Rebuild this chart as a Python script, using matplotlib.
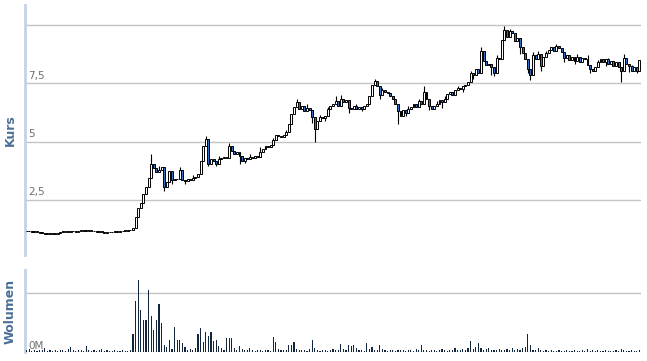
import numpy as np
import matplotlib.pyplot as plt

close = [
    1.15, 1.18, 1.14, 1.12, 1.13, 1.10, 1.08, 1.05, 1.07, 1.06, 1.04, 1.05,
    1.08, 1.12, 1.13, 1.15, 1.14, 1.17, 1.16, 1.13, 1.18, 1.20, 1.19, 1.17,
    1.21, 1.19, 1.16, 1.14, 1.12, 1.13, 1.10, 1.12, 1.11, 1.14, 1.15, 1.13,
    1.16, 1.18, 1.17, 1.20, 1.22, 1.30,
    1.75, 2.15, 2.35, 2.75, 3.05, 3.45, 4.05, 3.85, 3.70, 3.80, 3.90, 3.05,
    3.25, 3.75, 3.35, 3.40, 3.38, 3.80, 3.35, 3.30, 3.38, 3.36, 3.45, 3.50,
    3.60, 4.15,
    4.80, 5.10, 4.05, 4.25, 4.15, 4.05, 4.25, 4.30, 4.35, 4.30, 4.80, 4.60,
    4.45, 4.55, 4.40, 4.15, 4.30, 4.25, 4.35, 4.28, 4.40, 4.35, 4.55, 4.70,
    4.80, 4.75, 4.85, 5.05, 5.30, 5.25, 5.20, 5.30, 5.40, 5.75, 6.20, 6.50,
    6.70, 6.40,
    6.55, 6.30, 6.45, 6.35, 6.05, 5.55, 5.90, 6.05, 6.00, 6.10, 6.40, 6.55,
    6.60, 6.75, 6.55, 6.85, 6.70, 6.80, 6.45, 6.40, 6.55, 6.40, 6.50, 6.42,
    6.55, 6.60, 6.95, 7.45, 7.60, 7.40, 7.00, 7.20, 7.15, 7.10, 6.95, 6.85,
    6.60, 6.30, 6.10,
    6.35, 6.25, 6.40, 6.50, 6.60, 6.50, 6.75, 6.60, 7.15, 6.85, 6.55, 6.40,
    6.55, 6.60, 6.80, 6.70, 6.85, 7.05, 7.15, 7.00, 7.20, 7.30, 7.25, 7.40,
    7.45, 7.55, 7.95, 7.85, 8.10, 7.95, 8.90, 8.45, 8.30, 8.35, 8.20, 7.95,
    8.60, 8.55,
    9.35, 9.80, 9.50, 9.75, 9.65, 9.30, 9.45, 9.05, 8.80, 8.55, 8.10, 7.85,
    8.70, 8.55, 8.75, 8.25, 8.65, 8.80, 8.95, 9.05, 8.90, 9.10, 9.00, 8.85,
    8.60, 8.70, 8.50, 8.65, 8.45, 8.65, 8.40, 8.60, 8.55, 8.30, 8.10, 8.05,
    8.20, 8.40, 8.55, 8.40, 8.55, 8.35, 8.45, 8.25, 8.40, 8.20, 8.05, 8.60,
    8.35, 8.25, 8.05, 8.20, 8.05, 8.50,
]

# markante Dochte (Index, Wert)
hoch_idx = [48, 51, 59, 64, 69, 74, 78, 86, 90, 95, 100, 104, 108, 113, 116,
            119, 121, 127, 134, 137, 147, 151, 153, 158, 161, 166, 171, 175,
            181, 184, 186, 195, 197, 200, 204, 212, 216, 220, 224, 230, 233]
hoch_wert = [4.45, 3.95, 3.90, 3.55, 5.25, 4.40, 4.95, 4.45, 4.75, 5.15, 5.50,
             6.85, 6.60, 6.15, 6.50, 6.95, 7.00, 6.60, 7.70, 7.30, 6.55, 6.85,
             7.40, 6.75, 6.95, 7.40, 8.05, 9.05, 8.70, 9.95, 9.85, 8.85, 8.90,
             8.90, 9.20, 8.75, 8.70, 8.50, 8.60, 8.75, 8.30]
tief_idx = [53, 56, 61, 70, 73, 82, 84, 110, 111, 115, 124, 129, 136, 143,
            146, 155, 160, 168, 172, 179, 180, 190, 193, 194, 198, 207, 211,
            217, 223, 229, 232, 235]
tief_wert = [2.90, 3.20, 3.20, 3.95, 3.95, 4.05, 4.10, 5.80, 5.00, 5.90, 6.25,
             6.30, 6.85, 5.75, 6.10, 6.35, 6.45, 7.15, 7.70, 7.85, 7.80, 8.75,
             7.95, 7.65, 8.05, 8.40, 8.35, 7.95, 8.25, 7.55, 8.00, 7.95]

# Volumen (Gitterlinie = 1)
volumen = [
    0.03, 0.05, 0.02, 0.03, 0.02, 0.04, 0.03, 0.06, 0.02, 0.03, 0.02, 0.03,
    0.02, 0.03, 0.04, 0.02, 0.05, 0.08, 0.03, 0.02, 0.04, 0.03, 0.02, 0.10,
    0.03, 0.02, 0.04, 0.02, 0.03, 0.05, 0.02, 0.03, 0.02, 0.02, 0.03, 0.02,
    0.02, 0.03, 0.02, 0.02, 0.03, 0.30,
    0.85, 1.22, 0.71, 0.54, 0.54, 1.05, 0.61, 0.37, 0.54, 0.80, 0.49, 0.12,
    0.09, 0.20, 0.05, 0.42, 0.20, 0.20, 0.15, 0.09, 0.04, 0.05, 0.03, 0.06,
    0.30, 0.41,
    0.16, 0.34, 0.27, 0.34, 0.19, 0.20, 0.10, 0.06, 0.04, 0.23, 0.24, 0.23,
    0.06, 0.04, 0.10, 0.05, 0.03, 0.04, 0.06, 0.03, 0.02, 0.04, 0.03, 0.02,
    0.03, 0.04, 0.02, 0.26, 0.16, 0.05, 0.03, 0.04, 0.03, 0.12, 0.12, 0.16,
    0.05, 0.03,
    0.04, 0.03, 0.02, 0.05, 0.20, 0.06, 0.03, 0.02, 0.04, 0.03, 0.02, 0.03,
    0.05, 0.04, 0.03, 0.14, 0.05, 0.04, 0.12, 0.10, 0.12, 0.06, 0.03, 0.04,
    0.02, 0.15, 0.05, 0.08, 0.04, 0.03, 0.12, 0.05, 0.03, 0.02, 0.04, 0.03,
    0.02, 0.03, 0.04,
    0.03, 0.02, 0.04, 0.03, 0.02, 0.05, 0.03, 0.12, 0.04, 0.03, 0.02, 0.03,
    0.04, 0.02, 0.03, 0.05, 0.03, 0.02, 0.04, 0.03, 0.06, 0.04, 0.03, 0.05,
    0.04, 0.06, 0.19, 0.05, 0.08, 0.15, 0.06, 0.04, 0.05, 0.07, 0.03, 0.04,
    0.03, 0.05,
    0.04, 0.03, 0.05, 0.04, 0.06, 0.03, 0.05, 0.04, 0.06, 0.08, 0.31, 0.12,
    0.04, 0.03, 0.06, 0.04, 0.02, 0.03, 0.02, 0.03, 0.02, 0.02, 0.03, 0.02,
    0.02, 0.03, 0.02, 0.02, 0.03, 0.02, 0.02, 0.03, 0.02, 0.05, 0.02, 0.03,
    0.02, 0.03, 0.02, 0.02, 0.03, 0.02, 0.02, 0.02, 0.03, 0.02, 0.05, 0.03,
    0.02, 0.02, 0.03, 0.02, 0.02, 0.03,
]

kurs_ticks = [2.5, 5, 7.5, 10]
kurs_labels = ["2,5", "5", "7,5", ""]

close = np.array(close)
n = len(close)
x = np.arange(n)
open_ = np.r_[close[0], close[:-1]]
high = np.maximum(open_, close)
low = np.minimum(open_, close)
high[hoch_idx] = np.maximum(high[hoch_idx], hoch_wert)
low[tief_idx] = np.minimum(low[tief_idx], tief_wert)

blau = "#2f6fc6"
gitter = "#c4c4c4"
achse = "#c3d3e6"
titel = "#4b6f98"

fig = plt.figure(figsize=(6.47, 3.61), dpi=100)
ax = fig.add_axes([25/647, 1 - 255/361, 616/647, 250/361])
axv = fig.add_axes([25/647, 1 - 352/361, 616/647, 82/361])

for a in (ax, axv):
    for s in ("top", "right", "bottom"):
        a.spines[s].set_visible(False)
    a.spines["left"].set_color(achse)
    a.spines["left"].set_linewidth(2)
    a.set_xlim(-0.6, n - 0.4)
    a.set_xticks([])
    a.tick_params(left=False)
    a.grid(axis="y", color=gitter, lw=1)
    a.set_axisbelow(True)

# Kerzen
steigt = close >= open_
farben = np.where(steigt, "white", blau)
ax.vlines(x, low, high, color="black", lw=0.8, zorder=2)
hoehe = np.maximum(np.abs(close - open_), 0.03)
ax.bar(x, hoehe, bottom=np.minimum(open_, close), width=0.75,
       color=farben, edgecolor="black", linewidth=0.7, zorder=3)

ax.set_ylim(0.14, 10.86)
ax.set_yticks(kurs_ticks)
ax.set_yticklabels([])
for t, l in zip(kurs_ticks, kurs_labels):
    ax.text(0.6, t + 0.12, l, fontsize=7.5, color="#6f6f6f", va="bottom", ha="left")

axv.bar(x, volumen, width=0.45, color="#11263d", zorder=3)
axv.set_ylim(0, 1.38)
axv.set_yticks([0, 1])
axv.set_yticklabels([])
axv.grid(axis="y", color=gitter, lw=1)
axv.text(0.6, 0.02, "0M", fontsize=7.5, color="#6f6f6f", va="bottom", ha="left")

fig.text(10/647, 1 - 130/361, "Kurs", rotation=90, fontsize=9, fontweight="bold",
         color=titel, ha="center", va="center")
fig.text(10/647, 1 - 311/361, "Wolumen", rotation=90, fontsize=9, fontweight="bold",
         color=titel, ha="center", va="center")

fig.savefig("out.png", dpi=100)
